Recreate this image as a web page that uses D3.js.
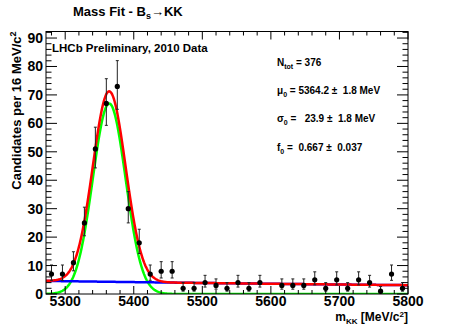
<html>
<head>
<style>
  body { margin: 0; background: #fff; font-family: "Liberation Sans", Arial, Helvetica, sans-serif; }
  text { font-weight: bold; fill: #000; }
</style>
</head>
<body>
<div id="chart"></div>
<script src="https://d3js.org/d3.v7.min.js"></script>
<script>
// data: bin centres (16 MeV bins from 5272 to 5800) and counts
var binCenters = d3.range(33).map(function(i) { return 5280 + 16 * i; });
var counts = [7, 7, 11, 25, 51, 67, 73, 30, 18, 7, 8, 8, 2, 2, 4, 3, 2,
              4, 2, 4, 0, 3, 3, 3, 5, 2, 5, 2, 5, 4, 1, 7, 2];

// fit results shown in the legend
var nTot = 376;
var mu0 = 5364.2;
var sigma0 = 23.9;
var f0 = 0.667;
// background level (events per bin) at the two ends of the range
var bkgEnds = [4.6, 3.1];

var xTicks = [5300, 5400, 5500, 5600, 5700, 5800];
var yTicks = [0, 10, 20, 30, 40, 50, 60, 70, 80, 90];

var width = 454, height = 326;
var margin = {top: 31.5, right: 46, bottom: 32, left: 46};

var svg = d3.select('#chart').append('svg')
    .attr('width', width)
    .attr('height', height);

var x = d3.scaleLinear().domain([5272, 5800]).range([margin.left, width - margin.right]);
var y = d3.scaleLinear().domain([0, 92.3]).range([height - margin.bottom, margin.top]);

var x0 = x.range()[0], x1 = x.range()[1];
var y0 = y.range()[0], y1 = y.range()[1];

svg.append('clipPath').attr('id', 'plot')
  .append('rect')
    .attr('x', x0).attr('y', y1)
    .attr('width', x1 - x0).attr('height', y0 - y1);

// fit model (events per 16 MeV bin)
var binW = 16;
var L = 5800 - 5272;
var k = Math.log(bkgEnds[0] / bkgEnds[1]) / L;
function sig(m) {
  return f0 * nTot * binW / (sigma0 * Math.sqrt(2 * Math.PI)) *
         Math.exp(-(m - mu0) * (m - mu0) / (2 * sigma0 * sigma0));
}
function bkg(m) {
  return bkgEnds[0] * Math.exp(-k * (m - 5272));
}
var mGrid = d3.range(5272, 5800.5, 1);

var line = function(fn) {
  return d3.line()
    .x(function(m) { return x(m); })
    .y(function(m) { return y(fn(m)); })(mGrid);
};

var curves = svg.append('g').attr('clip-path', 'url(#plot)');

curves.append('path')
    .attr('d', line(sig))
    .attr('fill', 'none').attr('stroke', '#00ff00').attr('stroke-width', 2.5);
curves.append('path')
    .attr('d', line(bkg))
    .attr('fill', 'none').attr('stroke', '#0000ff').attr('stroke-width', 2.5);
curves.append('path')
    .attr('d', line(function(m) { return sig(m) + bkg(m); }))
    .attr('fill', 'none').attr('stroke', '#ff0000').attr('stroke-width', 2.5);

// data points with asymmetric poisson errors
var pts = binCenters.map(function(c, i) {
  var n = counts[i];
  return {m: c, n: n, lo: n + 0.5 - Math.sqrt(n + 0.25), hi: n + 0.5 + Math.sqrt(n + 0.25)};
}).filter(function(d) { return d.n > 0; });

var pg = svg.append('g').attr('clip-path', 'url(#plot)');
pg.selectAll('.err').data(pts).enter().append('line')
    .attr('x1', function(d) { return x(d.m); })
    .attr('x2', function(d) { return x(d.m); })
    .attr('y1', function(d) { return y(d.lo); })
    .attr('y2', function(d) { return y(d.hi); })
    .attr('stroke', '#222').attr('stroke-width', 1);
pg.selectAll('.capHi').data(pts).enter().append('line')
    .attr('x1', function(d) { return x(d.m) - 1.5; })
    .attr('x2', function(d) { return x(d.m) + 1.5; })
    .attr('y1', function(d) { return y(d.hi); })
    .attr('y2', function(d) { return y(d.hi); })
    .attr('stroke', '#222').attr('stroke-width', 1);
pg.selectAll('.capLo').data(pts).enter().append('line')
    .attr('x1', function(d) { return x(d.m) - 1.5; })
    .attr('x2', function(d) { return x(d.m) + 1.5; })
    .attr('y1', function(d) { return y(d.lo); })
    .attr('y2', function(d) { return y(d.lo); })
    .attr('stroke', '#222').attr('stroke-width', 1);
pg.selectAll('.pt').data(pts).enter().append('circle')
    .attr('cx', function(d) { return x(d.m); })
    .attr('cy', function(d) { return y(d.n); })
    .attr('r', 2.6)
    .attr('fill', '#000');

// frame
svg.append('rect')
    .attr('x', x0).attr('y', y1)
    .attr('width', x1 - x0).attr('height', y0 - y1)
    .attr('fill', 'none').attr('stroke', '#000').attr('stroke-width', 1);

// ticks on all four sides
var ticks = svg.append('g').attr('stroke', '#000').attr('stroke-width', 1);
var xMinor = d3.range(5280, 5801, 20);
xMinor.forEach(function(v) {
  var len = (v % 100 === 0) ? 8 : 4;
  ticks.append('line').attr('x1', x(v)).attr('x2', x(v)).attr('y1', y0).attr('y2', y0 - len);
  ticks.append('line').attr('x1', x(v)).attr('x2', x(v)).attr('y1', y1).attr('y2', y1 + len);
});
var yMinor = d3.range(0, 92.3, 2);
yMinor.forEach(function(v) {
  var len = (v % 10 === 0) ? 11 : 5.5;
  ticks.append('line').attr('x1', x0).attr('x2', x0 + len).attr('y1', y(v)).attr('y2', y(v));
  ticks.append('line').attr('x1', x1).attr('x2', x1 - len).attr('y1', y(v)).attr('y2', y(v));
});

// tick labels
svg.selectAll('.xl').data(xTicks).enter().append('text')
    .attr('x', function(d) { return x(d); })
    .attr('y', y0 + 12)
    .attr('text-anchor', 'middle')
    .style('font-size', '14px')
    .text(function(d) { return d; });
svg.selectAll('.yl').data(yTicks).enter().append('text')
    .attr('x', x0 - 3)
    .attr('y', function(d) { return y(d) + 5; })
    .attr('text-anchor', 'end')
    .style('font-size', '14px')
    .text(function(d) { return d; });

// axis titles
var xt = svg.append('text')
    .attr('x', x1)
    .attr('y', 321)
    .attr('text-anchor', 'end')
    .style('font-size', '12px');
xt.append('tspan').text('m');
xt.append('tspan').attr('dy', 3).style('font-size', '8px').text('KK');
xt.append('tspan').attr('dy', -3).text(' [MeV/c');
xt.append('tspan').attr('dy', -4).style('font-size', '8px').text('2');
xt.append('tspan').attr('dy', 4).text(']');

var yt = svg.append('text')
    .attr('transform', 'translate(21,' + y1 + ') rotate(-90)')
    .attr('text-anchor', 'end')
    .style('font-size', '13px');
yt.append('tspan').text('Candidates per 16 MeV/c');
yt.append('tspan').attr('dy', -5).style('font-size', '9px').text('2');

// title
var tt = svg.append('text')
    .attr('x', 73).attr('y', 16)
    .style('font-size', '13px');
tt.append('tspan').text('Mass Fit - B');
tt.append('tspan').attr('dy', 3).style('font-size', '9px').text('s');
tt.append('tspan').attr('dy', -3).text('\u2192');
tt.append('tspan').text('KK');

svg.append('text')
    .attr('x', 52).attr('y', 52)
    .style('font-size', '11.5px')
    .text('LHCb Preliminary, 2010 Data');

// fit parameter box
var legend = [
  {sym: 'N', sub: 'tot', txt: ' = 376'},
  {sym: '\u03bc', sub: '0', txt: ' = 5364.2 \u00b1  1.8 MeV'},
  {sym: '\u03c3', sub: '0', txt: ' =   23.9 \u00b1  1.8 MeV'},
  {sym: 'f', sub: '0', txt: ' =  0.667 \u00b1  0.037'}
];
legend.forEach(function(d, i) {
  var t = svg.append('text')
      .attr('x', 277).attr('y', 65.5 + i * 28.4)
      .attr('xml:space', 'preserve')
      .style('white-space', 'pre')
      .style('font-size', '10px');
  t.append('tspan').text(d.sym);
  t.append('tspan').attr('dy', 3).style('font-size', '7px').text(d.sub);
  t.append('tspan').attr('dy', -3).text(d.txt);
});
</script>
</body>
</html>
